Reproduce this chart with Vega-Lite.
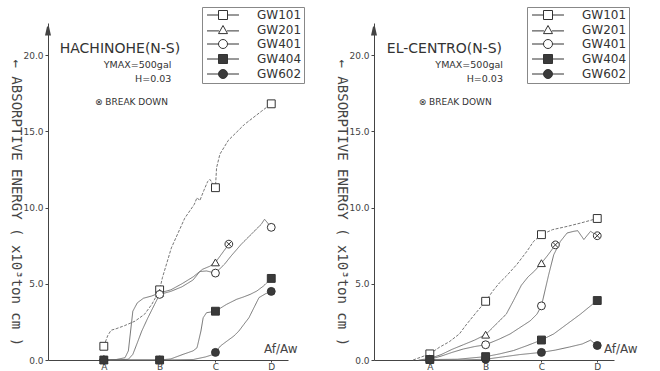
{
  "$schema": "https://vega.github.io/schema/vega-lite/v6.json",
  "background": "white",
  "padding": {"left": 8, "top": 6, "right": 5, "bottom": 0},
  "spacing": 29,
  "config": {
    "view": {"stroke": null},
    "axis": {"domainColor": "#444", "tickColor": "#444", "labelColor": "#444", "titleColor": "#444", "grid": false, "labelFont": "DejaVu Sans", "titleFont": "DejaVu Sans", "titleFontWeight": "normal"},
    "legend": {"title": null, "orient": "none", "legendY": -16, "symbolSize": 81, "symbolStrokeWidth": 1, "symbolOffset": 13, "labelOffset": 28, "labelFont": "DejaVu Sans", "labelFontSize": 12, "labelColor": "#333", "strokeColor": "#888", "padding": 2, "rowPadding": 1}
  },
  "data": {"values": [
    {"p":"L","s":"GW101","x":1,"y":0.9,"m":"s"},
    {"p":"L","s":"GW101","x":1.07,"y":1.6,"m":""},
    {"p":"L","s":"GW101","x":1.13,"y":1.95,"m":""},
    {"p":"L","s":"GW101","x":1.22,"y":2.05,"m":""},
    {"p":"L","s":"GW101","x":1.37,"y":2.25,"m":""},
    {"p":"L","s":"GW101","x":1.56,"y":2.55,"m":""},
    {"p":"L","s":"GW101","x":1.73,"y":3.0,"m":""},
    {"p":"L","s":"GW101","x":1.86,"y":3.65,"m":""},
    {"p":"L","s":"GW101","x":1.95,"y":4.25,"m":""},
    {"p":"L","s":"GW101","x":2,"y":4.6,"m":"s"},
    {"p":"L","s":"GW101","x":2.05,"y":5.4,"m":""},
    {"p":"L","s":"GW101","x":2.21,"y":7.35,"m":""},
    {"p":"L","s":"GW101","x":2.45,"y":9.3,"m":""},
    {"p":"L","s":"GW101","x":2.62,"y":10.2,"m":""},
    {"p":"L","s":"GW101","x":2.67,"y":10.65,"m":""},
    {"p":"L","s":"GW101","x":2.72,"y":10.45,"m":""},
    {"p":"L","s":"GW101","x":2.79,"y":11.1,"m":""},
    {"p":"L","s":"GW101","x":2.86,"y":11.7,"m":""},
    {"p":"L","s":"GW101","x":2.9,"y":11.85,"m":""},
    {"p":"L","s":"GW101","x":3,"y":11.3,"m":"s"},
    {"p":"L","s":"GW101","x":3.02,"y":12.6,"m":""},
    {"p":"L","s":"GW101","x":3.08,"y":13.5,"m":""},
    {"p":"L","s":"GW101","x":3.23,"y":14.4,"m":""},
    {"p":"L","s":"GW101","x":3.52,"y":15.45,"m":""},
    {"p":"L","s":"GW101","x":3.82,"y":16.3,"m":""},
    {"p":"L","s":"GW101","x":4,"y":16.8,"m":"s"},

    {"p":"L","s":"GW201","x":1,"y":0,"m":"s"},
    {"p":"L","s":"GW201","x":1.22,"y":0.03,"m":""},
    {"p":"L","s":"GW201","x":1.38,"y":0.15,"m":""},
    {"p":"L","s":"GW201","x":1.44,"y":0.6,"m":""},
    {"p":"L","s":"GW201","x":1.48,"y":1.9,"m":""},
    {"p":"L","s":"GW201","x":1.52,"y":3.2,"m":""},
    {"p":"L","s":"GW201","x":1.6,"y":3.75,"m":""},
    {"p":"L","s":"GW201","x":1.71,"y":4.05,"m":""},
    {"p":"L","s":"GW201","x":1.86,"y":4.2,"m":""},
    {"p":"L","s":"GW201","x":2,"y":4.4,"m":"s"},
    {"p":"L","s":"GW201","x":2.2,"y":4.6,"m":""},
    {"p":"L","s":"GW201","x":2.4,"y":5.0,"m":""},
    {"p":"L","s":"GW201","x":2.6,"y":5.45,"m":""},
    {"p":"L","s":"GW201","x":2.77,"y":5.95,"m":""},
    {"p":"L","s":"GW201","x":2.9,"y":6.15,"m":""},
    {"p":"L","s":"GW201","x":3,"y":6.4,"m":"s"},
    {"p":"L","s":"GW201","x":3.12,"y":7.0,"m":""},
    {"p":"L","s":"GW201","x":3.24,"y":7.6,"m":"b"},

    {"p":"L","s":"GW401","x":1,"y":0,"m":"s"},
    {"p":"L","s":"GW401","x":1.3,"y":0.02,"m":""},
    {"p":"L","s":"GW401","x":1.44,"y":0.05,"m":""},
    {"p":"L","s":"GW401","x":1.52,"y":0.37,"m":""},
    {"p":"L","s":"GW401","x":1.59,"y":1.03,"m":""},
    {"p":"L","s":"GW401","x":1.68,"y":1.9,"m":""},
    {"p":"L","s":"GW401","x":1.79,"y":2.77,"m":""},
    {"p":"L","s":"GW401","x":1.91,"y":3.65,"m":""},
    {"p":"L","s":"GW401","x":2,"y":4.3,"m":"s"},
    {"p":"L","s":"GW401","x":2.2,"y":4.5,"m":""},
    {"p":"L","s":"GW401","x":2.4,"y":4.8,"m":""},
    {"p":"L","s":"GW401","x":2.6,"y":5.25,"m":""},
    {"p":"L","s":"GW401","x":2.72,"y":5.8,"m":""},
    {"p":"L","s":"GW401","x":2.84,"y":5.84,"m":""},
    {"p":"L","s":"GW401","x":3,"y":5.7,"m":"s"},
    {"p":"L","s":"GW401","x":3.16,"y":6.27,"m":""},
    {"p":"L","s":"GW401","x":3.28,"y":6.82,"m":""},
    {"p":"L","s":"GW401","x":3.46,"y":7.58,"m":""},
    {"p":"L","s":"GW401","x":3.64,"y":8.24,"m":""},
    {"p":"L","s":"GW401","x":3.82,"y":8.9,"m":""},
    {"p":"L","s":"GW401","x":3.88,"y":9.23,"m":""},
    {"p":"L","s":"GW401","x":4,"y":8.7,"m":"s"},

    {"p":"L","s":"GW602","x":1,"y":0,"m":"s"},
    {"p":"L","s":"GW602","x":2,"y":0,"m":"s"},
    {"p":"L","s":"GW602","x":2.6,"y":0.03,"m":""},
    {"p":"L","s":"GW602","x":2.82,"y":0.2,"m":""},
    {"p":"L","s":"GW602","x":2.95,"y":0.35,"m":""},
    {"p":"L","s":"GW602","x":3,"y":0.5,"m":"s"},
    {"p":"L","s":"GW602","x":3.09,"y":0.92,"m":""},
    {"p":"L","s":"GW602","x":3.21,"y":1.25,"m":""},
    {"p":"L","s":"GW602","x":3.33,"y":1.57,"m":""},
    {"p":"L","s":"GW602","x":3.42,"y":1.9,"m":""},
    {"p":"L","s":"GW602","x":3.51,"y":2.34,"m":""},
    {"p":"L","s":"GW602","x":3.6,"y":2.77,"m":""},
    {"p":"L","s":"GW602","x":3.69,"y":3.43,"m":""},
    {"p":"L","s":"GW602","x":3.78,"y":4.09,"m":""},
    {"p":"L","s":"GW602","x":3.9,"y":4.35,"m":""},
    {"p":"L","s":"GW602","x":4,"y":4.5,"m":"s"},

    {"p":"L","s":"GW404","x":1,"y":0,"m":"s"},
    {"p":"L","s":"GW404","x":2,"y":0,"m":"s"},
    {"p":"L","s":"GW404","x":2.2,"y":0.07,"m":""},
    {"p":"L","s":"GW404","x":2.42,"y":0.37,"m":""},
    {"p":"L","s":"GW404","x":2.6,"y":0.6,"m":""},
    {"p":"L","s":"GW404","x":2.67,"y":0.8,"m":""},
    {"p":"L","s":"GW404","x":2.74,"y":1.9,"m":""},
    {"p":"L","s":"GW404","x":2.78,"y":2.77,"m":""},
    {"p":"L","s":"GW404","x":2.84,"y":3.1,"m":""},
    {"p":"L","s":"GW404","x":3,"y":3.2,"m":"s"},
    {"p":"L","s":"GW404","x":3.2,"y":3.65,"m":""},
    {"p":"L","s":"GW404","x":3.38,"y":3.98,"m":""},
    {"p":"L","s":"GW404","x":3.5,"y":4.13,"m":""},
    {"p":"L","s":"GW404","x":3.62,"y":4.3,"m":""},
    {"p":"L","s":"GW404","x":3.74,"y":4.52,"m":""},
    {"p":"L","s":"GW404","x":3.86,"y":4.85,"m":""},
    {"p":"L","s":"GW404","x":4,"y":5.35,"m":"s"},

    {"p":"R","s":"GW101","x":0.7,"y":0,"m":""},
    {"p":"R","s":"GW101","x":1,"y":0.4,"m":"s"},
    {"p":"R","s":"GW101","x":1.17,"y":0.83,"m":""},
    {"p":"R","s":"GW101","x":1.35,"y":1.2,"m":""},
    {"p":"R","s":"GW101","x":1.53,"y":1.71,"m":""},
    {"p":"R","s":"GW101","x":1.65,"y":2.3,"m":""},
    {"p":"R","s":"GW101","x":1.83,"y":3.11,"m":""},
    {"p":"R","s":"GW101","x":1.92,"y":3.5,"m":""},
    {"p":"R","s":"GW101","x":2,"y":3.85,"m":"s"},
    {"p":"R","s":"GW101","x":2.13,"y":4.53,"m":""},
    {"p":"R","s":"GW101","x":2.25,"y":5.07,"m":""},
    {"p":"R","s":"GW101","x":2.37,"y":5.5,"m":""},
    {"p":"R","s":"GW101","x":2.56,"y":6.27,"m":""},
    {"p":"R","s":"GW101","x":2.74,"y":7.13,"m":""},
    {"p":"R","s":"GW101","x":2.86,"y":7.78,"m":""},
    {"p":"R","s":"GW101","x":3,"y":8.22,"m":"s"},
    {"p":"R","s":"GW101","x":3.2,"y":8.55,"m":""},
    {"p":"R","s":"GW101","x":3.46,"y":8.76,"m":""},
    {"p":"R","s":"GW101","x":3.7,"y":8.98,"m":""},
    {"p":"R","s":"GW101","x":4,"y":9.28,"m":"s"},

    {"p":"R","s":"GW201","x":0.8,"y":0,"m":""},
    {"p":"R","s":"GW201","x":1,"y":0.1,"m":"s"},
    {"p":"R","s":"GW201","x":1.2,"y":0.35,"m":""},
    {"p":"R","s":"GW201","x":1.4,"y":0.7,"m":""},
    {"p":"R","s":"GW201","x":1.6,"y":1.0,"m":""},
    {"p":"R","s":"GW201","x":1.8,"y":1.3,"m":""},
    {"p":"R","s":"GW201","x":2,"y":1.66,"m":"s"},
    {"p":"R","s":"GW201","x":2.19,"y":2.36,"m":""},
    {"p":"R","s":"GW201","x":2.37,"y":3.01,"m":""},
    {"p":"R","s":"GW201","x":2.5,"y":3.9,"m":""},
    {"p":"R","s":"GW201","x":2.64,"y":4.9,"m":""},
    {"p":"R","s":"GW201","x":2.76,"y":5.45,"m":""},
    {"p":"R","s":"GW201","x":2.88,"y":5.85,"m":""},
    {"p":"R","s":"GW201","x":3,"y":6.35,"m":"s"},
    {"p":"R","s":"GW201","x":3.12,"y":6.9,"m":""},
    {"p":"R","s":"GW201","x":3.25,"y":7.55,"m":"b"},

    {"p":"R","s":"GW401","x":0.85,"y":0,"m":""},
    {"p":"R","s":"GW401","x":1,"y":0.05,"m":"s"},
    {"p":"R","s":"GW401","x":1.2,"y":0.25,"m":""},
    {"p":"R","s":"GW401","x":1.4,"y":0.5,"m":""},
    {"p":"R","s":"GW401","x":1.6,"y":0.72,"m":""},
    {"p":"R","s":"GW401","x":1.8,"y":0.88,"m":""},
    {"p":"R","s":"GW401","x":2,"y":1.0,"m":"s"},
    {"p":"R","s":"GW401","x":2.25,"y":1.38,"m":""},
    {"p":"R","s":"GW401","x":2.44,"y":1.71,"m":""},
    {"p":"R","s":"GW401","x":2.62,"y":2.14,"m":""},
    {"p":"R","s":"GW401","x":2.8,"y":2.57,"m":""},
    {"p":"R","s":"GW401","x":2.92,"y":3.01,"m":""},
    {"p":"R","s":"GW401","x":3,"y":3.55,"m":"s"},
    {"p":"R","s":"GW401","x":3.13,"y":5.6,"m":""},
    {"p":"R","s":"GW401","x":3.22,"y":6.9,"m":""},
    {"p":"R","s":"GW401","x":3.34,"y":7.78,"m":""},
    {"p":"R","s":"GW401","x":3.46,"y":8.33,"m":""},
    {"p":"R","s":"GW401","x":3.58,"y":8.44,"m":""},
    {"p":"R","s":"GW401","x":3.65,"y":8.48,"m":""},
    {"p":"R","s":"GW401","x":3.76,"y":7.9,"m":""},
    {"p":"R","s":"GW401","x":3.88,"y":8.44,"m":""},
    {"p":"R","s":"GW401","x":4,"y":8.15,"m":"b"},

    {"p":"R","s":"GW602","x":1,"y":0,"m":"s"},
    {"p":"R","s":"GW602","x":1.5,"y":0,"m":""},
    {"p":"R","s":"GW602","x":2,"y":0.05,"m":"s"},
    {"p":"R","s":"GW602","x":2.3,"y":0.2,"m":""},
    {"p":"R","s":"GW602","x":2.6,"y":0.35,"m":""},
    {"p":"R","s":"GW602","x":3,"y":0.5,"m":"s"},
    {"p":"R","s":"GW602","x":3.25,"y":0.65,"m":""},
    {"p":"R","s":"GW602","x":3.5,"y":0.85,"m":""},
    {"p":"R","s":"GW602","x":3.73,"y":1.05,"m":""},
    {"p":"R","s":"GW602","x":3.88,"y":1.3,"m":""},
    {"p":"R","s":"GW602","x":4,"y":0.95,"m":"s"},

    {"p":"R","s":"GW404","x":1,"y":0.03,"m":"s"},
    {"p":"R","s":"GW404","x":1.5,"y":0.05,"m":""},
    {"p":"R","s":"GW404","x":2,"y":0.22,"m":"s"},
    {"p":"R","s":"GW404","x":2.25,"y":0.4,"m":""},
    {"p":"R","s":"GW404","x":2.5,"y":0.62,"m":""},
    {"p":"R","s":"GW404","x":2.74,"y":0.94,"m":""},
    {"p":"R","s":"GW404","x":3,"y":1.31,"m":"s"},
    {"p":"R","s":"GW404","x":3.22,"y":1.71,"m":""},
    {"p":"R","s":"GW404","x":3.46,"y":2.36,"m":""},
    {"p":"R","s":"GW404","x":3.7,"y":3.01,"m":""},
    {"p":"R","s":"GW404","x":3.88,"y":3.55,"m":""},
    {"p":"R","s":"GW404","x":4,"y":3.9,"m":"s"}
  ]},
  "hconcat": [
    {
      "width": 240,
      "height": 337,
      "transform": [{"filter": "datum.p === 'L'"}],
      "resolve": {"scale": {"shape": "independent", "fill": "independent", "stroke": "independent"}},
      "layer": [
        {
          "mark": {"type": "line", "color": "#666", "strokeWidth": 0.9},
          "encoding": {
            "x": {"field": "x", "type": "quantitative", "scale": {"domain": [0, 4.3], "nice": false},
              "axis": {"values": [1, 2, 3, 4], "labelExpr": "['','A','B','C','D'][datum.value]", "tickSize": 2, "labelFontSize": 9, "labelPadding": 0,
                "title": "Af/Aw", "titleFontSize": 12, "titleX": 249, "titleY": -8, "titleAlign": "right", "titleBaseline": "alphabetic", "titleAnchor": "end"}},
            "y": {"field": "y", "type": "quantitative", "scale": {"domain": [0, 22.1], "nice": false},
              "axis": {"values": [0, 5, 10, 15, 20], "format": ".1f", "tickSize": 3, "labelFontSize": 9, "labelPadding": 2,
                "title": "← ABSORPTIVE ENERGY ( x10³ton cm )", "titleFont": "DejaVu Sans Mono", "titleFontSize": 14, "titleAngle": 90, "titleAlign": "left", "titleBaseline": "middle", "titleX": -33, "titleY": 36}},
            "detail": {"field": "s"},
            "strokeDash": {"field": "s", "scale": {"domain": ["GW101", "GW201", "GW401", "GW404", "GW602"], "range": [[3, 1.5], [1, 0], [1, 0], [1, 0], [1, 0]]}, "legend": null}
          }
        },
        {
          "transform": [{"filter": "datum.m === 's'"}],
          "mark": {"type": "point", "stroke": "#333", "strokeWidth": 1, "opacity": 1, "size": 62},
          "encoding": {
            "x": {"field": "x", "type": "quantitative"},
            "y": {"field": "y", "type": "quantitative"},
            "shape": {"field": "s", "scale": {"domain": ["GW101", "GW201", "GW401", "GW404", "GW602"], "range": ["square", "triangle-up", "circle", "square", "circle"]}, "legend": null},
            "fill": {"field": "s", "scale": {"domain": ["GW101", "GW201", "GW401", "GW404", "GW602"], "range": ["white", "white", "white", "#3a3a3a", "#3a3a3a"]}, "legend": null}
          }
        },
        {
          "transform": [{"filter": "datum.m === 'b'"}],
          "mark": {"type": "point", "shape": "M-1,0A1,1 0 1,0 1,0A1,1 0 1,0 -1,0Z M-0.7,-0.7L0.7,0.7M-0.7,0.7L0.7,-0.7", "fill": "white", "stroke": "#333", "strokeWidth": 1, "opacity": 1, "size": 60},
          "encoding": {
            "x": {"field": "x", "type": "quantitative"},
            "y": {"field": "y", "type": "quantitative"}
          }
        },
        {
          "transform": [{"filter": "false"}],
          "mark": {"type": "point", "strokeWidth": 1, "opacity": 1},
          "encoding": {
            "x": {"field": "x", "type": "quantitative"},
            "y": {"field": "y", "type": "quantitative"},
            "shape": {"field": "s", "scale": {"domain": ["GW101", "GW201", "GW401", "GW404", "GW602"], "range": [
              "M-3.55,0H-1M1,0H3.55M-1,-1H1V1H-1Z",
              "M-3.55,0.2H-0.9M0.9,0.2H3.55M0,-1L1,0.8H-1Z",
              "M-3.55,0H-1M1,0H3.55M1,0A1,1 0 1,1 -1,0A1,1 0 1,1 1,0Z",
              "M-3.55,0H-1M1,0H3.55M-1,-1H1V1H-1Z",
              "M-3.55,0H-1M1,0H3.55M1,0A1,1 0 1,1 -1,0A1,1 0 1,1 1,0Z"]},
              "legend": {"legendX": 154}},
            "fill": {"field": "s", "scale": {"domain": ["GW101", "GW201", "GW401", "GW404", "GW602"], "range": ["white", "white", "white", "#3a3a3a", "#3a3a3a"]},
              "legend": {"legendX": 154}},
            "stroke": {"field": "s", "scale": {"domain": ["GW101", "GW201", "GW401", "GW404", "GW602"], "range": ["#333", "#333", "#333", "#333", "#333"]},
              "legend": {"legendX": 154}}
          }
        },
        {
          "data": {"values": [{}]},
          "mark": {"type": "point", "shape": "M0,-1L0.45,1L-0.45,1Z", "fill": "#444", "stroke": "#444", "size": 60, "opacity": 1},
          "encoding": {"x": {"datum": 0}, "y": {"datum": 21.6}}
        },
        {
          "data": {"values": [{}]},
          "mark": {"type": "text", "text": "HACHINOHE(N-S)", "align": "left", "baseline": "alphabetic", "font": "DejaVu Sans", "fontSize": 14, "color": "#333"},
          "encoding": {"x": {"datum": 0.21}, "y": {"datum": 20.1}}
        },
        {
          "data": {"values": [{}]},
          "mark": {"type": "text", "text": "YMAX=500gal", "align": "right", "baseline": "alphabetic", "font": "DejaVu Sans", "fontSize": 9.5, "color": "#333"},
          "encoding": {"x": {"datum": 2.21}, "y": {"datum": 19.15}}
        },
        {
          "data": {"values": [{}]},
          "mark": {"type": "text", "text": "H=0.03", "align": "right", "baseline": "alphabetic", "font": "DejaVu Sans", "fontSize": 9.5, "color": "#333"},
          "encoding": {"x": {"datum": 2.21}, "y": {"datum": 18.23}}
        },
        {
          "data": {"values": [{}]},
          "mark": {"type": "text", "text": "⊗ BREAK DOWN", "align": "left", "baseline": "alphabetic", "font": "DejaVu Sans", "fontSize": 9, "color": "#333"},
          "encoding": {"x": {"datum": 0.84}, "y": {"datum": 16.72}}
        }
      ]
    },
    {
      "width": 240,
      "height": 337,
      "transform": [{"filter": "datum.p === 'R'"}],
      "resolve": {"scale": {"shape": "independent", "fill": "independent", "stroke": "independent"}},
      "layer": [
        {
          "mark": {"type": "line", "color": "#666", "strokeWidth": 0.9},
          "encoding": {
            "x": {"field": "x", "type": "quantitative", "scale": {"domain": [0, 4.3], "nice": false},
              "axis": {"values": [1, 2, 3, 4], "labelExpr": "['','A','B','C','D'][datum.value]", "tickSize": 2, "labelFontSize": 9, "labelPadding": 0,
                "title": "Af/Aw", "titleFontSize": 12, "titleX": 263, "titleY": -8, "titleAlign": "right", "titleBaseline": "alphabetic", "titleAnchor": "end"}},
            "y": {"field": "y", "type": "quantitative", "scale": {"domain": [0, 22.1], "nice": false},
              "axis": {"values": [0, 5, 10, 15, 20], "format": ".1f", "tickSize": 3, "labelFontSize": 9, "labelPadding": 2,
                "title": "← ABSORPTIVE ENERGY ( x10³ton cm )", "titleFont": "DejaVu Sans Mono", "titleFontSize": 14, "titleAngle": 90, "titleAlign": "left", "titleBaseline": "middle", "titleX": -33, "titleY": 36}},
            "detail": {"field": "s"},
            "strokeDash": {"field": "s", "scale": {"domain": ["GW101", "GW201", "GW401", "GW404", "GW602"], "range": [[3, 1.5], [1, 0], [1, 0], [1, 0], [1, 0]]}, "legend": null}
          }
        },
        {
          "transform": [{"filter": "datum.m === 's'"}],
          "mark": {"type": "point", "stroke": "#333", "strokeWidth": 1, "opacity": 1, "size": 62},
          "encoding": {
            "x": {"field": "x", "type": "quantitative"},
            "y": {"field": "y", "type": "quantitative"},
            "shape": {"field": "s", "scale": {"domain": ["GW101", "GW201", "GW401", "GW404", "GW602"], "range": ["square", "triangle-up", "circle", "square", "circle"]}, "legend": null},
            "fill": {"field": "s", "scale": {"domain": ["GW101", "GW201", "GW401", "GW404", "GW602"], "range": ["white", "white", "white", "#3a3a3a", "#3a3a3a"]}, "legend": null}
          }
        },
        {
          "transform": [{"filter": "datum.m === 'b'"}],
          "mark": {"type": "point", "shape": "M-1,0A1,1 0 1,0 1,0A1,1 0 1,0 -1,0Z M-0.7,-0.7L0.7,0.7M-0.7,0.7L0.7,-0.7", "fill": "white", "stroke": "#333", "strokeWidth": 1, "opacity": 1, "size": 60},
          "encoding": {
            "x": {"field": "x", "type": "quantitative"},
            "y": {"field": "y", "type": "quantitative"}
          }
        },
        {
          "transform": [{"filter": "false"}],
          "mark": {"type": "point", "strokeWidth": 1, "opacity": 1},
          "encoding": {
            "x": {"field": "x", "type": "quantitative"},
            "y": {"field": "y", "type": "quantitative"},
            "shape": {"field": "s", "scale": {"domain": ["GW101", "GW201", "GW401", "GW404", "GW602"], "range": [
              "M-3.55,0H-1M1,0H3.55M-1,-1H1V1H-1Z",
              "M-3.55,0.2H-0.9M0.9,0.2H3.55M0,-1L1,0.8H-1Z",
              "M-3.55,0H-1M1,0H3.55M1,0A1,1 0 1,1 -1,0A1,1 0 1,1 1,0Z",
              "M-3.55,0H-1M1,0H3.55M-1,-1H1V1H-1Z",
              "M-3.55,0H-1M1,0H3.55M1,0A1,1 0 1,1 -1,0A1,1 0 1,1 1,0Z"]},
              "legend": {"legendX": 153}},
            "fill": {"field": "s", "scale": {"domain": ["GW101", "GW201", "GW401", "GW404", "GW602"], "range": ["white", "white", "white", "#3a3a3a", "#3a3a3a"]},
              "legend": {"legendX": 153}},
            "stroke": {"field": "s", "scale": {"domain": ["GW101", "GW201", "GW401", "GW404", "GW602"], "range": ["#333", "#333", "#333", "#333", "#333"]},
              "legend": {"legendX": 153}}
          }
        },
        {
          "data": {"values": [{}]},
          "mark": {"type": "point", "shape": "M0,-1L0.45,1L-0.45,1Z", "fill": "#444", "stroke": "#444", "size": 60, "opacity": 1},
          "encoding": {"x": {"datum": 0}, "y": {"datum": 21.6}}
        },
        {
          "data": {"values": [{}]},
          "mark": {"type": "text", "text": "EL-CENTRO(N-S)", "align": "left", "baseline": "alphabetic", "font": "DejaVu Sans", "fontSize": 14, "color": "#333"},
          "encoding": {"x": {"datum": 0.23}, "y": {"datum": 20.1}}
        },
        {
          "data": {"values": [{}]},
          "mark": {"type": "text", "text": "YMAX=500gal", "align": "right", "baseline": "alphabetic", "font": "DejaVu Sans", "fontSize": 9.5, "color": "#333"},
          "encoding": {"x": {"datum": 2.31}, "y": {"datum": 19.15}}
        },
        {
          "data": {"values": [{}]},
          "mark": {"type": "text", "text": "H=0.03", "align": "right", "baseline": "alphabetic", "font": "DejaVu Sans", "fontSize": 9.5, "color": "#333"},
          "encoding": {"x": {"datum": 2.31}, "y": {"datum": 18.23}}
        },
        {
          "data": {"values": [{}]},
          "mark": {"type": "text", "text": "⊗ BREAK DOWN", "align": "left", "baseline": "alphabetic", "font": "DejaVu Sans", "fontSize": 9, "color": "#333"},
          "encoding": {"x": {"datum": 0.8}, "y": {"datum": 16.72}}
        }
      ]
    }
  ]
}
